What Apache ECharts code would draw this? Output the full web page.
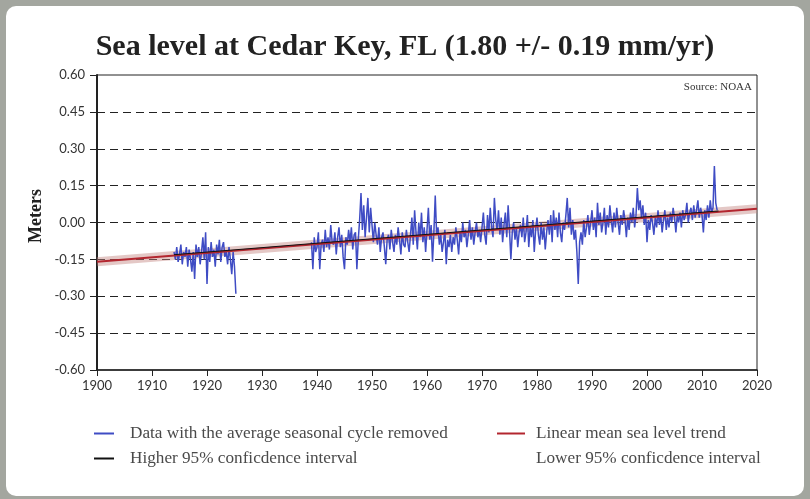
<!DOCTYPE html>
<html>
<head>
<meta charset="utf-8">
<script src="https://cdn.jsdelivr.net/npm/echarts@6/dist/echarts.min.js"></script>
<style>
  html, body { margin: 0; padding: 0; width: 810px; height: 499px; overflow: hidden; background: #a3a69f; }
  #card { position: absolute; left: 6px; top: 6px; width: 798px; height: 490px; background: #fff; border-radius: 10px; }
  #chart { position: absolute; left: 0; top: 0; width: 810px; height: 499px; }
</style>
</head>
<body>
<div id="card"></div>
<div id="chart"></div>
<script>
// quarterly readings (m), first segment starts 1914, second 1939
const step = 0.25
const seg1Start = 1914
const seg1Values = [
  -0.12, -0.15, -0.10, -0.16,
  -0.13, -0.09, -0.17, -0.12,
  -0.14, -0.10, -0.18, -0.11,
  -0.15, -0.20, -0.12, -0.23,
  -0.09, -0.14, -0.10, -0.17,
  -0.12, -0.06, -0.15, -0.04,
  -0.25, -0.10, -0.16, -0.08,
  -0.14, -0.11, -0.18, -0.09,
  -0.13, -0.07, -0.16, -0.10,
  -0.08, -0.14, -0.12, -0.17,
  -0.10, -0.15, -0.21, -0.12,
  -0.18, -0.29
]
const seg2Start = 1939
const seg2Values = [
  -0.08, -0.19, -0.06, -0.12,   // 1939
  -0.10, -0.04, -0.19, -0.09,
  -0.07, -0.12, -0.03, -0.10,
  -0.06, -0.11, -0.01, -0.08,
  -0.09, -0.04, -0.13, -0.06,
  -0.02, -0.10, -0.05, -0.14,
  -0.19, -0.06, -0.09, -0.03,
  -0.08, -0.02, -0.11, -0.05,
  -0.04, -0.19, -0.07, 0.01,
  0.12, -0.03, 0.07, -0.06,
  0.02, 0.10, -0.04, 0.06,
  -0.01, -0.08, 0.00, -0.05,    // 1950
  -0.09, -0.02, -0.12, -0.06,
  -0.04, -0.10, -0.17, -0.07,
  -0.05, -0.11, -0.03, -0.08,
  -0.12, -0.05, -0.09, -0.02,
  -0.07, -0.13, -0.04, -0.09,
  -0.10, -0.03, -0.08, -0.12,
  -0.05, 0.02, -0.09, 0.05,
  -0.04, -0.11, 0.00, -0.06,
  0.04, -0.08, -0.02, -0.12,
  -0.03, 0.06, -0.07, -0.01,    // 1960
  -0.16, -0.04, 0.11, -0.05,
  -0.02, -0.09, -0.05, -0.12,
  -0.08, -0.03, -0.17, -0.07,
  -0.10, -0.05, -0.12, -0.06,
  -0.09, -0.02, -0.07, -0.13,
  -0.04, -0.08, 0.00, -0.06,
  -0.03, -0.10, -0.05, 0.01,
  -0.07, -0.02, -0.09, -0.04,
  0.00, -0.06, -0.03, -0.08,
  -0.02, 0.04, -0.05, -0.09,    // 1970
  0.03, -0.04, 0.06, -0.02,
  -0.06, 0.10, 0.01, -0.03,
  0.05, -0.05, 0.02, -0.08,
  -0.01, 0.04, -0.06, 0.07,
  -0.03, -0.15, -0.04, 0.00,
  -0.07, -0.02, -0.10, -0.04,
  -0.01, -0.06, 0.02, -0.08,
  -0.04, 0.03, -0.10, -0.02,
  -0.06, 0.01, -0.12, -0.03,
  0.02, -0.05, -0.09, 0.00,     // 1980
  -0.07, -0.02, -0.11, -0.04,
  0.01, -0.05, 0.03, -0.08,
  0.05, -0.03, 0.02, -0.06,
  0.04, -0.04, -0.08, 0.00,
  -0.03, 0.03, 0.10, -0.02,
  0.06, -0.05, 0.01, -0.07,
  -0.03, -0.12, -0.25, -0.08,
  -0.04, -0.09, 0.01, -0.06,
  -0.02, 0.03, -0.05, 0.00,
  0.05, -0.03, 0.02, -0.06,     // 1990
  0.08, -0.01, 0.04, -0.04,
  0.00, 0.06, -0.05, 0.03,
  -0.02, 0.07, 0.01, -0.04,
  0.04, -0.02, 0.06, 0.00,
  -0.05, 0.03, -0.01, 0.05,
  0.01, -0.06, 0.02, -0.03,
  0.04, 0.00, 0.06, -0.02,
  0.03, 0.14, 0.05, 0.09,
  0.02, 0.07, -0.01, 0.04,
  -0.08, 0.01, -0.03, 0.03,     // 2000
  0.00, -0.05, 0.02, -0.02,
  0.05, -0.01, 0.03, -0.04,
  0.01, 0.05, -0.03, 0.02,
  -0.02, 0.04, 0.00, 0.06,
  0.02, -0.04, 0.03, 0.00,
  0.04, -0.02, 0.05, 0.01,
  0.03, 0.08, 0.00, 0.04,
  0.06, 0.01, 0.07, 0.02,
  0.05, 0.09, 0.02, 0.06,
  0.03, -0.04, 0.05, 0.01,      // 2010
  0.07, 0.02, 0.09, 0.04,
  0.06, 0.23, 0.08, 0.05
]
const trendYears = [1900, 2020]
const trendValues = [-0.16, 0.056]
const ciYears = [1914, 2013]
const ciHigh = [-0.131, 0.047]
const ciLow = [-0.139, 0.040]

const NAME_DATA = 'Data with the average seasonal cycle removed'
const NAME_TREND = 'Linear mean sea level trend'
const NAME_HIGH = 'Higher 95% conficdence interval'
const NAME_LOW = 'Lower 95% conficdence interval'

const toPairs = (start, vals) => vals.map((v, i) => [start + i * step, v])
const zip = (xs, ys) => xs.map((x, i) => [x, ys[i]])

const serif = '"Liberation Serif", "DejaVu Serif", serif'
const sans = 'Lato, "Open Sans", sans-serif'

let myChart = echarts.init(document.getElementById('chart'))

let options = {
  animation: false,
  title: {
    text: 'Sea level at Cedar Key, FL (1.80 +/- 0.19 mm/yr)',
    left: 'center',
    top: 27,
    textStyle: { fontFamily: serif, fontWeight: 'bold', fontSize: 30, color: '#222' }
  },
  grid: { left: 97, right: 53, top: 75, bottom: 129, show: true, borderColor: '#222', borderWidth: 1 },
  legend: [
    {
      left: 94, top: 425, orient: 'vertical', itemGap: 8, padding: 0,
      itemWidth: 20, itemHeight: 2, icon: 'rect',
      data: [NAME_DATA, NAME_HIGH],
      textStyle: { fontFamily: serif, fontSize: 17.2, color: '#4a4a4a', padding: [0, 0, 0, 11], lineHeight: 16 }
    },
    {
      left: 497, top: 425, orient: 'vertical', itemGap: 8, padding: 0,
      itemWidth: 28, itemHeight: 2, icon: 'rect',
      data: [NAME_TREND, NAME_LOW],
      textStyle: { fontFamily: serif, fontSize: 17.2, color: '#4a4a4a', padding: [0, 0, 0, 6], lineHeight: 16 }
    }
  ],
  xAxis: {
    type: 'value', min: 1900, max: 2020, interval: 10,
    axisLine: { onZero: false, lineStyle: { color: '#222', width: 1.5 } },
    axisTick: { length: 6, lineStyle: { color: '#222' } },
    axisLabel: { margin: 9, fontFamily: sans, fontSize: 13, color: '#333', formatter: v => String(v) },
    splitLine: { show: false }
  },
  yAxis: {
    type: 'value', min: -0.6, max: 0.6, interval: 0.15,
    axisLine: { show: true, lineStyle: { color: '#222', width: 2 } },
    axisTick: { show: true, length: 7, lineStyle: { color: '#222' } },
    axisLabel: {
      margin: 12, fontFamily: sans, fontSize: 13, color: '#333',
      formatter: v => Math.abs(v) < 1e-9 ? '0.00' : v.toFixed(2)
    },
    splitLine: { show: true, showMinLine: false, showMaxLine: false, lineStyle: { type: [8, 5], color: '#222', width: 1 } }
  },
  graphic: [
    {
      type: 'text', x: 36, y: 216, rotation: Math.PI / 2,
      style: { text: 'Meters', fontFamily: serif, fontWeight: 'bold', fontSize: 18, fill: '#222', align: 'center', verticalAlign: 'middle' }
    },
    {
      type: 'text', x: 752, y: 87,
      style: { text: 'Source: NOAA', fontFamily: serif, fontSize: 11, fill: '#333', align: 'right', verticalAlign: 'middle' }
    }
  ],
  series: [
    {
      type: 'line', silent: true, symbol: 'none', z: 1,
      lineStyle: { width: 9, color: 'rgba(196,132,128,0.45)' },
      data: zip(trendYears, trendValues)
    },
    {
      name: NAME_DATA, type: 'line', symbol: 'none', z: 2, color: '#3f4cc4',
      lineStyle: { width: 1.5 },
      data: toPairs(seg1Start, seg1Values)
    },
    {
      name: NAME_DATA, type: 'line', symbol: 'none', z: 2, color: '#3f4cc4',
      lineStyle: { width: 1.5 },
      data: toPairs(seg2Start, seg2Values)
    },
    {
      name: NAME_TREND, type: 'line', symbol: 'none', z: 3, color: '#b3262f',
      lineStyle: { width: 2 },
      data: zip(trendYears, trendValues)
    },
    {
      name: NAME_HIGH, type: 'line', symbol: 'none', z: 4, color: '#111',
      lineStyle: { width: 1 },
      data: zip(ciYears, ciHigh)
    },
    {
      name: NAME_LOW, type: 'line', symbol: 'none', z: 4, color: '#ffffff',
      lineStyle: { width: 1, opacity: 0 },
      data: zip(ciYears, ciLow)
    }
  ]
}
myChart.setOption(options)
</script>
</body>
</html>
